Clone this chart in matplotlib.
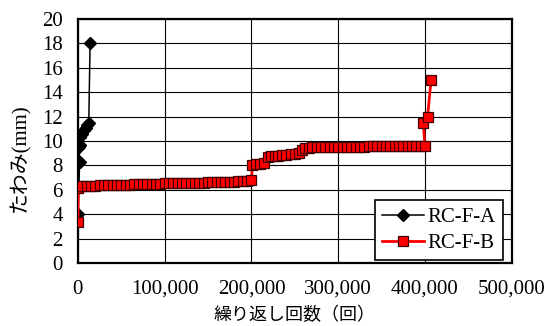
import matplotlib
matplotlib.use("Agg")
import matplotlib.pyplot as plt
from matplotlib.ticker import FuncFormatter, MultipleLocator

plt.rcParams['font.family'] = ['Liberation Serif', 'Noto Sans CJK JP']

# ── data ─────────────────────────────────────────────────────────────────────
a_cycles = [0, 2000, 1500, 2000, 2500, 5000, 7000, 9000, 11000, 12500, 14000]
a_defl   = [4.0, 8.3, 9.5, 9.7, 10.3, 10.6, 10.9, 11.1, 11.3, 11.5, 18.0]

b_cycles = [0, 500, 2000,
            5000, 10000, 15000, 20000, 25000, 30000, 35000, 40000, 45000, 50000,
            55000, 60000, 65000, 70000, 75000, 80000, 85000, 90000, 95000, 100000,
            105000, 110000, 115000, 120000, 125000, 130000, 135000, 140000, 145000,
            150000, 155000, 160000, 165000, 170000, 175000, 180000, 185000, 190000,
            195000, 200000,
            201000, 205000, 210000, 215000, 219000, 223000, 227000, 231000, 235000,
            240000, 245000, 250000, 255000, 258000, 262000, 266000, 270000, 275000,
            280000, 285000, 290000, 295000, 300000, 305000, 310000, 315000, 320000,
            325000, 330000, 335000, 340000, 345000, 350000, 355000, 360000, 365000,
            370000, 375000, 380000, 385000, 390000, 395000, 400000,
            398000, 403000, 407000]
b_defl   = [3.4, 6.15, 6.3,
            6.32, 6.33, 6.33, 6.35, 6.36, 6.37, 6.38, 6.39, 6.40, 6.41,
            6.42, 6.43, 6.44, 6.45, 6.46, 6.48, 6.48, 6.49, 6.50, 6.52,
            6.52, 6.53, 6.54, 6.56, 6.56, 6.57, 6.58, 6.60, 6.60,
            6.61, 6.62, 6.64, 6.64, 6.65, 6.66, 6.68, 6.69, 6.71,
            6.72, 6.80,
            8.00, 8.10, 8.15, 8.20, 8.70, 8.75, 8.78, 8.80, 8.82,
            8.85, 8.90, 8.95, 9.05, 9.25, 9.40, 9.45, 9.47, 9.48,
            9.49, 9.50, 9.50, 9.50, 9.50, 9.51, 9.52, 9.52, 9.53,
            9.54, 9.54, 9.55, 9.55, 9.56, 9.56, 9.57, 9.57, 9.58,
            9.58, 9.58, 9.59, 9.59, 9.60, 9.60, 9.60,
            11.5, 12.0, 15.0]

x_ticks = [0, 100000, 200000, 300000, 400000, 500000]

# ── figure ───────────────────────────────────────────────────────────────────
fig = plt.figure(figsize=(5.45, 3.26), dpi=100)
ax = fig.add_axes([0.143, 0.193, 0.796, 0.749])

ax.plot(a_cycles, a_defl, color='black', lw=1.1, marker='D', ms=6,
        mfc='black', mec='black', label='RC-F-A', zorder=3)
ax.plot(b_cycles, b_defl, color='red', lw=2.0, marker='s', ms=7,
        mfc='red', mec='#400000', mew=0.9, label='RC-F-B', zorder=4)

ax.set_xlim(0, 500000)
ax.set_ylim(0, 20)
ax.set_xticks(x_ticks)
ax.yaxis.set_major_locator(MultipleLocator(2))
ax.xaxis.set_major_formatter(FuncFormatter(lambda v, p: f"{int(v):,}"))
ax.grid(True, color='black', lw=0.8)
ax.set_axisbelow(True)
for s in ax.spines.values():
    s.set_linewidth(1.6)
ax.tick_params(length=0, labelsize=15)
ax.tick_params(axis='x', pad=12)
ax.tick_params(axis='y', pad=11)

ax.set_xlabel('繰り返し回数（回）', fontsize=13, family='Noto Sans CJK JP',
              labelpad=5)
fig.text(0.037, 0.515, 'たわみ(mm)', rotation=90, fontsize=15,
         ha='center', va='center')

leg = ax.legend(loc='lower right', bbox_to_anchor=(0.979, 0.012),
                borderaxespad=0, fontsize=15, handlelength=2.0,
                handletextpad=0.15, labelspacing=0.3, borderpad=0.35,
                fancybox=False, framealpha=1, edgecolor='black')
leg.get_frame().set_linewidth(1.2)

fig.savefig('out.png', dpi=100)
